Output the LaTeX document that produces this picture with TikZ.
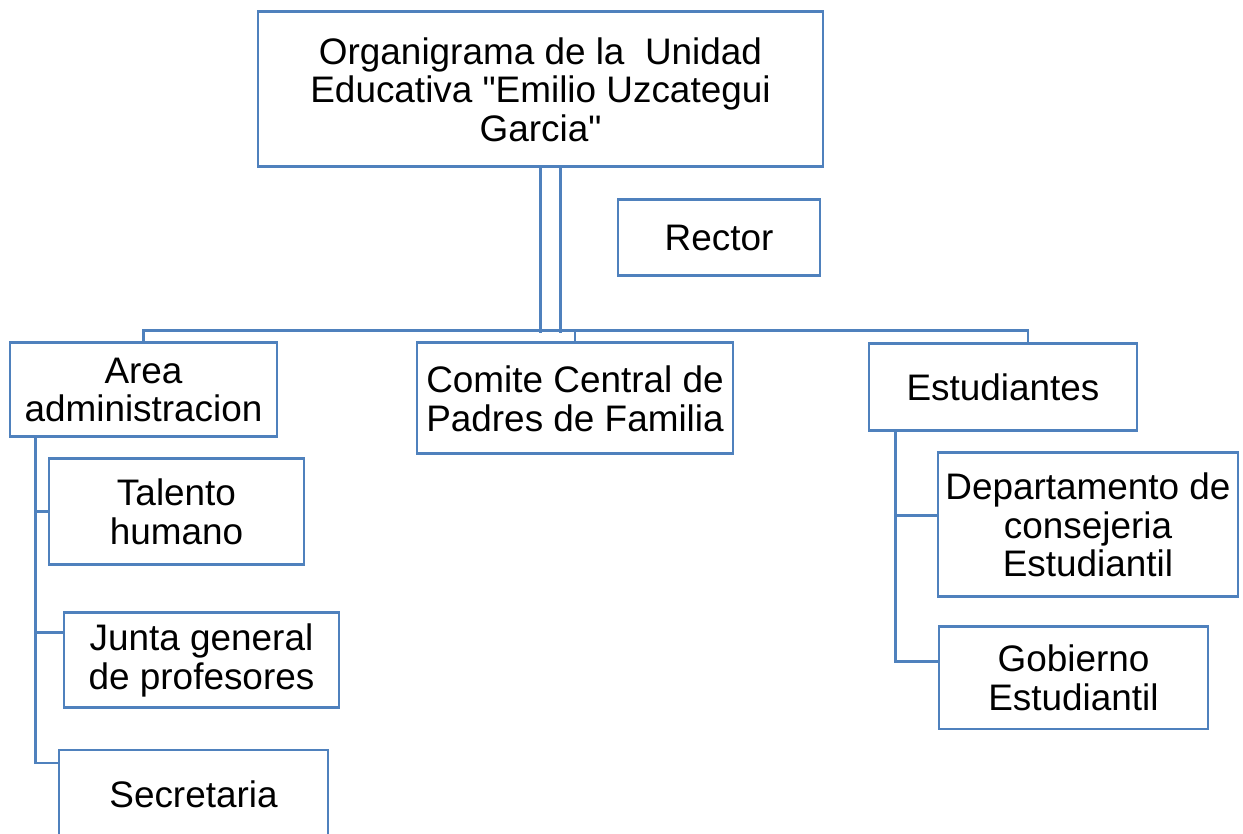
\documentclass[tikz,border=0pt]{standalone}
\usepackage{fontspec}
\setmainfont{Liberation Sans}[Ligatures=TeXOff]
\usepackage{xcolor}
\usepackage{tikz}
\usetikzlibrary{calc}
\definecolor{orgblue}{RGB}{79,129,189}

\begin{document}
\begin{tikzpicture}[
    box/.style={draw=orgblue, line width=0.85pt, fill=white, inner sep=0pt, align=center,
      font=\fontsize{10.5}{11}\selectfont},
    link/.style={draw=orgblue, line width=0.85pt}
  ]
  \path[use as bounding box, clip] (0, 0) rectangle (12.43, 8.34);
  \node[box, minimum width=5.65cm, minimum height=1.55cm] (top) at (5.405, 7.445)
    {Organigrama de la~ Unidad\\Educativa "Emilio Uzcategui\\Garcia"};
  \node[box, minimum width=2.02cm, minimum height=0.76cm] (rector) at (7.19, 5.96) {Rector};
  \node[box, minimum width=2.67cm, minimum height=0.94cm] (area) at (1.435, 4.44) {Area\\administracion};
  \node[box, minimum width=3.16cm, minimum height=1.11cm] (comite) at (5.75, 4.355) {Comite Central de\\Padres de Familia};
  \node[box, minimum width=2.68cm, minimum height=0.87cm] (estud) at (10.03, 4.465) {Estudiantes};
  \node[box, minimum width=2.55cm, minimum height=1.06cm] (talento) at (1.765, 3.22) {Talento\\humano};
  \node[box, minimum width=2.75cm, minimum height=0.95cm] (junta) at (2.015, 1.735) {Junta general\\de profesores};
  \node[box, minimum width=2.69cm, minimum height=0.88cm] (secre) at (1.935, 0.40) {Secretaria};
  \node[box, minimum width=3.00cm, minimum height=1.44cm] (depto) at (10.88, 3.09) {Departamento de\\consejeria\\Estudiantil};
  \node[box, minimum width=2.69cm, minimum height=1.02cm] (gobierno) at (10.735, 1.56) {Gobierno\\Estudiantil};

  \draw[link] (top.south) -- ++(0, -1.65);
  \draw[link] ($(top.south)+(0.2, 0)$) -- ++(0, -1.65);
  \draw[link] (area.north) |- ($(estud.north)+(0.25, 0.12)$) -- ($(estud.north)+(0.25, 0)$);
  \draw[link] (comite.north) -- ++(0, 0.11);

  \coordinate (lspine) at ($(area.south west)+(0.27, 0)$);
  \draw[link] (lspine) |- (talento.west);
  \draw[link] (lspine) |- ($(junta.west)+(0, 0.28)$);
  \draw[link] (lspine) |- ($(secre.west)+(0, 0.31)$);

  \coordinate (rspine) at ($(estud.south west)+(0.28, 0)$);
  \draw[link] (rspine) |- ($(depto.west)+(0, 0.09)$);
  \draw[link] (rspine) |- ($(gobierno.west)+(0, 0.16)$);
\end{tikzpicture}
\end{document}
